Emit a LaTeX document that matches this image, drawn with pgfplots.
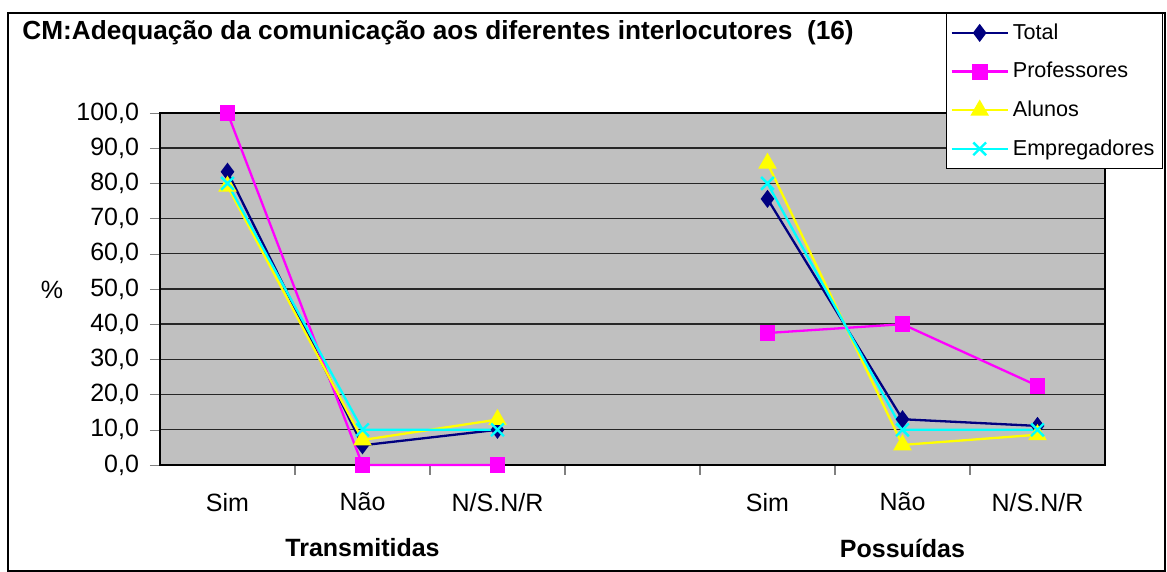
\documentclass[border=0pt]{standalone}
\usepackage{fontspec}
\setmainfont{Liberation Sans}
\usepackage{pgfplots}
\pgfplotsset{compat=1.18}
\definecolor{plotgray}{HTML}{C0C0C0}
\definecolor{cTotal}{HTML}{000080}
\definecolor{cProf}{HTML}{FF00FF}
\definecolor{cAlun}{HTML}{FFFF00}
\definecolor{cEmpr}{HTML}{00FFFF}

\begin{document}
\begin{tikzpicture}
\path[use as bounding box] (-80pt,-53.5pt) rectangle (503.5pt,232.5pt);
\draw[line width=0.6pt] (-76pt,-53pt) rectangle (502.5pt,226pt);
\node[anchor=west,inner sep=0pt,font=\bfseries\fontsize{13.1}{15}\selectfont] at (-69pt,216pt)
  {CM:Adequação da comunicação aos diferentes interlocutores\ \ (16)};
\begin{axis}[
    scale only axis,
    width=472.5pt, height=176pt,
    xmin=-0.5, xmax=6.5,
    ymin=0, ymax=100,
    axis background/.style={fill=plotgray},
    axis line style={line width=0.8pt},
    clip=false,
    unbounded coords=jump,
    xtick={0,1,2,4,5,6},
    xticklabels={Sim,Não,N/S.N/R,Sim,Não,N/S.N/R},
    major x tick style={draw=none},
    minor xtick={0.5,1.5,2.5,3.5,4.5,5.5},
    minor tick length=5pt,
    minor x tick style={line width=0.6pt},
    ytick={0,10,...,100},
    major tick length=5pt,
    tick align=outside,
    xtick pos=bottom, ytick pos=left,
    ymajorgrids,
    major grid style={line width=0.7pt,black!85},
    ticklabel style={font=\fontsize{12.5}{14}\selectfont},
    xticklabel style={yshift=-5.5pt},
    yticklabel style={xshift=-2pt,
        /pgf/number format/.cd, fixed, fixed zerofill, precision=1, use comma,
        assume math mode=true},
    legend style={draw=black, fill=white, line width=0.6pt,
        at={(axis description cs:0.8317,1.2841)}, anchor=north west,
        font=\fontsize{10.8}{13}\selectfont, row sep=6pt,
        inner xsep=2pt, inner ysep=3pt, cells={anchor=west}},
    legend image code/.code={
        \draw[mark repeat=2,mark phase=2]
        plot coordinates {(0pt,0pt) (14pt,0pt) (28pt,0pt)};},
    every axis plot/.append style={line width=1.15pt},
]
\addplot[cTotal, mark=diamond*, mark size=3.6pt, mark options={solid,fill=cTotal}]
  coordinates {(0,83.3) (1,5.6) (2,10.0) (3,nan) (4,75.6) (5,13.0) (6,11.1)};
\addlegendentry{Total}
\addplot[cProf, mark=square*, mark size=3.4pt, mark options={solid,fill=cProf}]
  coordinates {(0,100.0) (1,0.0) (2,0.0) (3,nan) (4,37.5) (5,40.0) (6,22.5)};
\addlegendentry{Professores}
\addplot[cAlun, mark=triangle*, mark size=4.2pt, mark options={solid,fill=cAlun}]
  coordinates {(0,79.2) (1,7.1) (2,12.9) (3,nan) (4,85.7) (5,5.7) (6,8.6)};
\addlegendentry{Alunos}
\addplot[cEmpr, mark=x, mark size=4.5pt, mark options={solid,line width=1.2pt}]
  coordinates {(0,80.0) (1,10.0) (2,10.0) (3,nan) (4,80.0) (5,10.0) (6,10.0)};
\addlegendentry{Empregadores}
\node[font=\fontsize{12.5}{14}\selectfont] at (rel axis cs:0,0) [xshift=-54pt,yshift=87.5pt] {\%};
\node[font=\bfseries\fontsize{12.5}{14}\selectfont] at (axis cs:1,0) [yshift=-41.5pt] {Transmitidas};
\node[font=\bfseries\fontsize{12.5}{14}\selectfont] at (axis cs:5,0) [yshift=-41.5pt] {Possuídas};
\end{axis}
\end{tikzpicture}
\end{document}
